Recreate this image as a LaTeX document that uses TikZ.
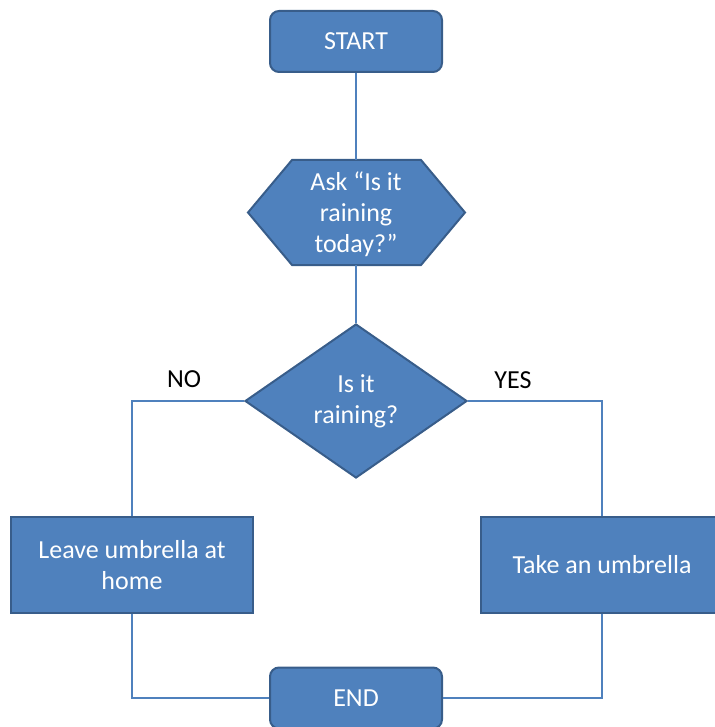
\documentclass[tikz,border=0pt]{standalone}
\usepackage{fontspec}
\setmainfont{Carlito}
\usetikzlibrary{shapes.geometric}
\definecolor{boxfill}{HTML}{4F81BD}
\definecolor{boxedge}{HTML}{385D8A}
\definecolor{linecol}{HTML}{4F81BD}
\tikzset{
  txt/.style={font=\fontsize{26}{31}\selectfont},
  box/.style={txt, draw=boxedge, line width=2pt, fill=boxfill, text=white, align=center, inner sep=0pt},
  term/.style={box, rounded corners=9pt, minimum width=172pt, minimum height=61pt},
  proc/.style={box, minimum width=242pt, minimum height=96pt},
  dec/.style={box, diamond, minimum width=222pt, minimum height=154pt},
  conn/.style={draw=linecol, line width=2pt},
  lbl/.style={txt, text=black, inner sep=0pt}
}
\begin{document}
\begin{tikzpicture}[x=1pt, y=-1pt]
\useasboundingbox (0,0) rectangle (714,727);
% nodes
\node[term] (start) at (356,41.5) {START};
\draw[draw=boxedge, line width=2pt, fill=boxfill]
  (292,160) -- (421,160) -- (465,212.5) -- (421,265) -- (292,265) -- (248,212.5) -- cycle;
\coordinate (hexT) at (356,160);
\coordinate (hexB) at (356,265);
\node[txt, text=white, align=center, inner sep=0pt] (ask) at (356,214) {Ask “Is it\\raining\\today?”};
\node[dec] (dia) at (356,401) {Is it\\raining?};
\node[proc] (leave) at (132,565) {Leave umbrella at\\home};
\node[proc] (take) at (602,565) {Take an umbrella};
\node[term] (end) at (356,698) {END};
\node[lbl] (no) at (184,379) {NO};
\node[lbl] (yes) at (513,380) {YES};
% connectors
\draw[conn] (start.south) -- (hexT);
\draw[conn] (hexB) -- (dia.north);
\draw[conn] (dia.west) -| (leave.north);
\draw[conn] (dia.east) -| (take.north);
\draw[conn] (leave.south) |- (end.west);
\draw[conn] (take.south) |- (end.east);
\end{tikzpicture}
\end{document}
